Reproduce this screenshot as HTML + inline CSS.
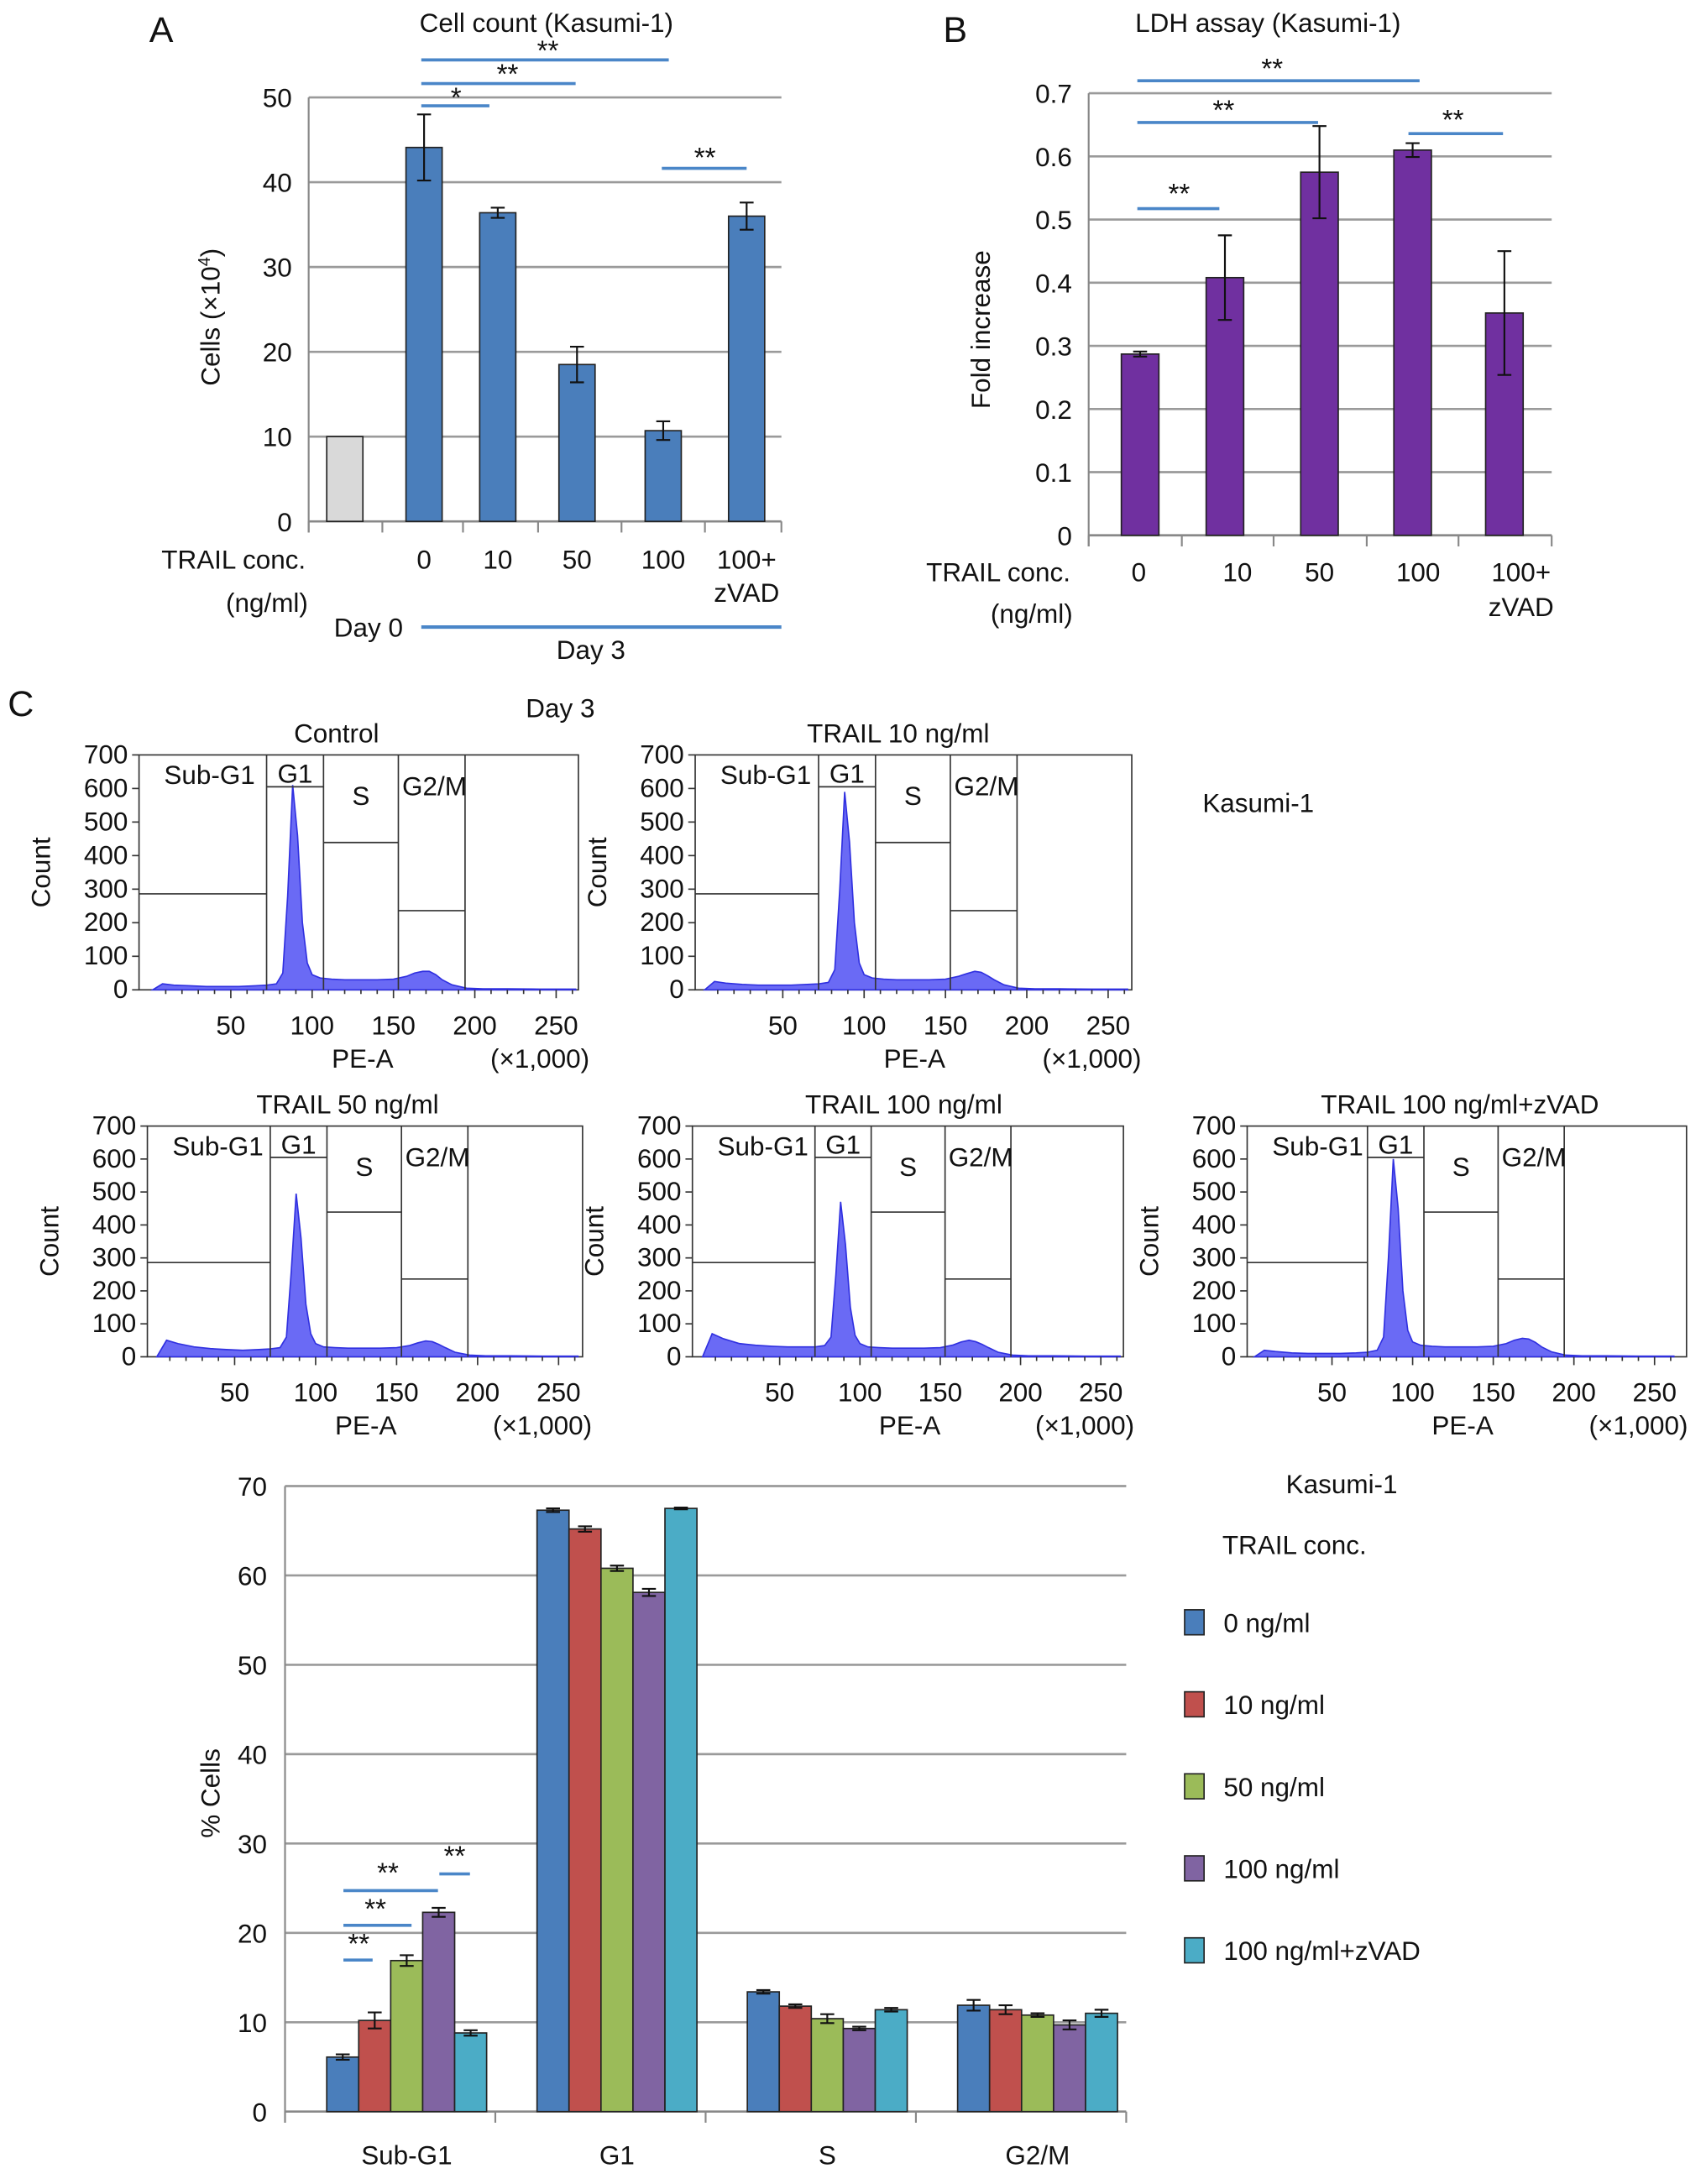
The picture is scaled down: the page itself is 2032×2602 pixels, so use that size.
<!DOCTYPE html>
<html><head><meta charset="utf-8"><style>
html,body{margin:0;padding:0;background:#fff;}
svg{display:block;font-family:"Liberation Sans",Arial,sans-serif;}
</style></head><body>
<svg id="fig" width="2032" height="2602" viewBox="0 0 1227 1571" xmlns="http://www.w3.org/2000/svg"></svg>
<script>
// ---- Panel A data ----
const aCats = ['Day0','0','10','50','100','100+zVAD'];
const aVals = [10, 44.1, 36.4, 18.5, 10.7, 36.0];
const aErrs = [0, 3.9, 0.6, 2.1, 1.1, 1.6];
const aTicks = [0,10,20,30,40,50];
// ---- Panel B data ----
const bCats = ['0','10','50','100','100+zVAD'];
const bVals = [0.287, 0.408, 0.575, 0.610, 0.352];
const bErrs = [0.004, 0.067, 0.073, 0.011, 0.098];
const bTicks = [0,0.1,0.2,0.3,0.4,0.5,0.6,0.7];
// ---- Histogram data ----
const hX = [2,8,15,25,35,45,55,65,72,78,82,85,88,91,94,97,100,105,112,120,130,140,150,158,163,168,172,176,180,186,195,205,220,240,262];
const hCtrl = [0,18,14,12,10,10,10,12,14,18,50,280,610,460,200,80,45,35,32,30,30,30,32,40,50,55,55,45,30,15,5,3,3,2,2];
const hT10 = [0,25,20,16,14,14,14,16,18,22,60,300,590,440,200,80,45,35,32,30,30,30,32,40,48,55,52,42,30,15,5,3,3,2,2];
const hT50 = [0,50,40,30,25,22,20,22,24,28,60,260,495,360,160,70,40,30,28,26,26,26,28,34,42,48,46,38,28,14,5,3,3,2,2];
const hT100 = [0,70,55,40,35,32,30,30,30,34,60,250,470,340,150,65,40,30,28,26,26,26,28,36,45,50,46,38,28,14,5,3,3,2,2];
const hZvad = [0,20,16,12,10,10,10,12,14,20,60,300,600,450,200,80,45,35,32,30,30,30,32,40,50,56,54,44,30,15,5,3,3,2,2];
const hGates = [72,107,153,194];
const hGateTops = [286,605,439,236];
// ---- Cell cycle data ----
const cPhases = ['Sub-G1','G1','S','G2/M'];
const cSeries = ['0 ng/ml','10 ng/ml','50 ng/ml','100 ng/ml','100 ng/ml+zVAD'];
const cSub = [6.1,10.2,16.9,22.3,8.8];
const cG1 = [67.3,65.2,60.8,58.1,67.5];
const cS = [13.4,11.8,10.4,9.3,11.4];
const cG2 = [11.9,11.4,10.8,9.7,11.0];
const cSubE = [0.3,0.9,0.6,0.5,0.3];
const cG1E = [0.2,0.3,0.3,0.4,0.1];
const cSE = [0.2,0.2,0.5,0.2,0.2];
const cG2E = [0.6,0.5,0.2,0.5,0.4];
const cTicks = [0,10,20,30,40,50,60,70];

const NS='http://www.w3.org/2000/svg';
const svg=document.getElementById('fig');
function el(tag,attrs,name,parent){
  const e=document.createElementNS(NS,tag);
  for(const k in attrs) e.setAttribute(k,attrs[k]);
  
  
  (parent||svg).appendChild(e);
  return e;
}
function tx(x,y,s,name,opt){
  opt=opt||{};
  const t=el('text',Object.assign({x:x,y:y,'font-size':opt.fs||19,'text-anchor':opt.a||'middle',fill:'#111'},opt.attr||{}),name);
  t.textContent=s;return t;
}
function line(x1,y1,x2,y2,c,w,name){return el('line',{x1:x1,y1:y1,x2:x2,y2:y2,stroke:c,'stroke-width':w},name);}
function errbar(x,y1,y2,name){
  line(x,y1,x,y2,'#111',1.3,name);
  line(x-5,y1,x+5,y1,'#111',1.3,name+'-cap-top');
  line(x-5,y2,x+5,y2,'#111',1.3,name+'-cap-bottom');
}
function sig(x1,x2,y,sx,sy,s,name){
  line(x1,y,x2,y,'#4a86c8',2.2,name+'-line');
  tx(sx,sy,s,name+'-stars',{fs:20});
}

// ===== Panel A =====
tx(116,30,'A','panel-a-label',{fs:26});
tx(393,23,'Cell count (Kasumi-1)','panel-a-title',{});
const aY=v=>375-v/50*305;
const aX=i=>[248,305,358,415,477,537][i];
aTicks.forEach(t=>{
  if(t>0) line(222,aY(t),562,aY(t),'#9a9a9a',1.6,'a-gridline-'+t);
  tx(210,aY(t)+7,String(t),'a-y-tick-'+t,{a:'end'});
});
line(222,70,222,383,'#888',1.3,'a-y-axis');
line(222,375,562,375,'#888',1.6,'a-x-axis');
[222,275,333,387,447,507,562].forEach((x,i)=>line(x,375,x,383,'#888',1.3,'a-x-tick-'+i));
aVals.forEach((v,i)=>{
  el('rect',{x:aX(i)-13,y:aY(v),width:26,height:375-aY(v),fill:i==0?'#d9d9d9':'#4a7ebb',stroke:'#222','stroke-width':1},'a-bar-'+aCats[i]);
  if(aErrs[i]>0) errbar(aX(i),aY(v+aErrs[i]),aY(v-aErrs[i]),'a-errbar-'+aCats[i]);
});
el('text',{x:158,y:228,'font-size':19,'text-anchor':'middle',transform:'rotate(-90 158 228)',fill:'#111'},'a-y-axis-title').innerHTML='Cells (×10<tspan dy="-7" font-size="12">4</tspan><tspan dy="7">)</tspan>';
tx(168,409,'TRAIL conc.','a-x-title',{});
tx(192,440,'(ng/ml)','a-x-unit',{});
['0','10','50','100','100+'].forEach((s,i)=>tx(aX(i+1),409,s,'a-x-label-'+s,{}));
tx(537,433,'zVAD','a-x-label-zvad',{});
tx(265,458,'Day 0','a-day0-label',{});
line(303,451,562,451,'#4a86c8',2.5,'a-day3-line');
tx(425,474,'Day 3','a-day3-label',{});
sig(303,352,76,328,77,'*','a-sig-0-10');
sig(303,414,60,365,60,'**','a-sig-0-50');
sig(303,481,43,394,43,'**','a-sig-0-100');
sig(476,537,121,507,120,'**','a-sig-100-zvad');

// ===== Panel B =====
tx(687,30,'B','panel-b-label',{fs:26});
tx(912,23,'LDH assay (Kasumi-1)','panel-b-title',{});
const bY=v=>385-v/0.7*318;
const bX=i=>[820,881,949,1016,1082][i];
bTicks.forEach(t=>{
  if(t>0) line(783,bY(t),1116,bY(t),'#9a9a9a',1.6,'b-gridline-'+t);
  tx(771,bY(t)+7,String(t),'b-y-tick-'+t,{a:'end'});
});
line(783,67,783,393,'#888',1.3,'b-y-axis');
line(783,385,1116,385,'#888',1.6,'b-x-axis');
[783,850,916,983,1049,1116].forEach((x,i)=>line(x,385,x,393,'#888',1.3,'b-x-tick-'+i));
bVals.forEach((v,i)=>{
  el('rect',{x:bX(i)-13.5,y:bY(v),width:27,height:385-bY(v),fill:'#7030a0',stroke:'#222','stroke-width':1},'b-bar-'+bCats[i]);
  errbar(bX(i),bY(v+bErrs[i]),bY(v-bErrs[i]),'b-errbar-'+bCats[i]);
});
tx(712,237,'Fold increase','b-y-axis-title',{attr:{transform:'rotate(-90 712 237)'}});
tx(718,418,'TRAIL conc.','b-x-title',{});
tx(742,448,'(ng/ml)','b-x-unit',{});
[['0',819],['10',890],['50',949],['100',1020],['100+',1094]].forEach(p=>tx(p[1],418,p[0],'b-x-label-'+p[0],{}));
tx(1094,443,'zVAD','b-x-label-zvad',{});
sig(818,1021,58,915,56,'**','b-sig-0-100');
sig(818,948,88,880,86,'**','b-sig-0-50');
sig(818,877,150,848,146,'**','b-sig-0-10');
sig(1013,1081,96,1045,93,'**','b-sig-100-zvad');

// ===== Panel C histograms =====
tx(15,515,'C','panel-c-label',{fs:26});
tx(403,516,'Day 3','c-day3-label',{});
tx(905,584,'Kasumi-1','c-cellline-label',{});
function hist(p){
  const X=v=>p.o+v*p.k, Y=c=>p.y1-c/700*(p.y1-p.y0);
  const n=p.name;
  el('rect',{x:p.x0,y:p.y0,width:p.x1-p.x0,height:p.y1-p.y0,fill:'none',stroke:'#333','stroke-width':1},n+'-plot-frame');
  let d='M'+X(hX[0])+','+Y(0);
  hX.forEach((x,i)=>{d+=' L'+X(x).toFixed(1)+','+Y(p.data[i]).toFixed(1);});
  d+=' L'+X(hX[hX.length-1])+','+Y(0)+' Z';
  el('path',{d:d,fill:'#6a6af5',stroke:'#3030e0','stroke-width':1},n+'-histogram');
  hGates.forEach((g,i)=>line(X(g),p.y0,X(g),p.y1,'#333',1,n+'-gate-line-'+i));
  const bounds=[p.x0,X(hGates[0]),X(hGates[1]),X(hGates[2]),X(hGates[3])];
  hGateTops.forEach((c,i)=>line(bounds[i],Y(c),bounds[i+1],Y(c),'#333',1,n+'-gate-top-'+i));
  tx(p.x0+18,p.y0+21,'Sub-G1',n+'-gate-subg1',{a:'start'});
  tx((bounds[1]+bounds[2])/2,p.y0+20,'G1',n+'-gate-g1',{});
  tx((bounds[2]+bounds[3])/2,p.y0+36,'S',n+'-gate-s',{});
  tx((bounds[3]+bounds[4])/2+2,p.y0+29,'G2/M',n+'-gate-g2m',{});
  for(let c=0;c<=700;c+=100){
    line(p.x0-5,Y(c),p.x0,Y(c),'#333',1,n+'-y-tick-mark-'+c);
    tx(p.x0-8,Y(c)+6,String(c),n+'-y-tick-'+c,{a:'end'});
  }
  for(let v=10;v<=260;v+=10){
    line(X(v),p.y1,X(v),p.y1+(v%50==0?6:3),'#333',1,n+'-x-tick-mark-'+v);
  }
  [50,100,150,200,250].forEach(v=>tx(X(v),p.y1+32,String(v),n+'-x-tick-'+v,{}));
  tx(X(131),p.y1+56,'PE-A',n+'-x-axis-title',{});
  tx(X(240),p.y1+56,'(×1,000)',n+'-x-unit',{});
  const cy=(p.y0+p.y1)/2, cx=p.x0-64;
  tx(cx,cy,'Count',n+'-y-axis-title',{attr:{transform:'rotate(-90 '+cx+' '+cy+')'}});
  tx(p.tx,p.y0-9,p.title,n+'-title',{});
}
hist({name:'hist-control',x0:100,x1:416,y0:543,y1:712,o:107.5,k:1.17,data:hCtrl,title:'Control',tx:242});
hist({name:'hist-trail10',x0:500,x1:814,y0:543,y1:712,o:504.5,k:1.17,data:hT10,title:'TRAIL 10 ng/ml',tx:646});
hist({name:'hist-trail50',x0:106,x1:419,y0:810,y1:976,o:110.5,k:1.165,data:hT50,title:'TRAIL 50 ng/ml',tx:250});
hist({name:'hist-trail100',x0:498,x1:808,y0:810,y1:976,o:503,k:1.155,data:hT100,title:'TRAIL 100 ng/ml',tx:650});
hist({name:'hist-trail100-zvad',x0:897,x1:1213,y0:810,y1:976,o:900,k:1.16,data:hZvad,title:'TRAIL 100 ng/ml+zVAD',tx:1050});

// ===== Cell cycle bar chart =====
const colors=['#4a7ebb','#c0504d','#9bbb59','#8064a2','#4bacc6'];
const cY=v=>1519-v/70*450;
const bandW=(810-205)/4;
const cX=(g,i)=>205+g*bandW+30+i*23;
cTicks.forEach(t=>{
  if(t>0) line(205,cY(t),810,cY(t),'#9a9a9a',1.6,'c-gridline-'+t);
  tx(192,cY(t)+7,String(t),'c-y-tick-'+t,{a:'end'});
});
line(205,1069,205,1527,'#888',1.3,'c-y-axis');
line(205,1519,810,1519,'#888',1.6,'c-x-axis');
for(let g=0;g<=4;g++) line(205+g*bandW,1519,205+g*bandW,1527,'#888',1.3,'c-x-tick-'+g);
const cVals=[cSub,cG1,cS,cG2], cErrs=[cSubE,cG1E,cSE,cG2E];
cVals.forEach((arr,g)=>arr.forEach((v,i)=>{
  el('rect',{x:cX(g,i),y:cY(v),width:23,height:1519-cY(v),fill:colors[i],stroke:'#222','stroke-width':1},'c-bar-'+cPhases[g]+'-'+i);
  errbar(cX(g,i)+11.5,cY(v+cErrs[g][i]),cY(v-cErrs[g][i]),'c-errbar-'+cPhases[g]+'-'+i);
}));
cPhases.forEach((p,g)=>tx(cX(g,2)+11.5,1557,p,'c-x-label-'+p,{}));
tx(158,1290,'% Cells','c-y-axis-title',{attr:{transform:'rotate(-90 158 1290)'}});
sig(247,268,1410,258,1405,'**','c-sig-0-10');
sig(247,296,1385,270,1380,'**','c-sig-0-50');
sig(247,315,1360,279,1354,'**','c-sig-0-100');
sig(316,338,1348,327,1342,'**','c-sig-100-zvad');
tx(965,1074,'Kasumi-1','c-legend-title',{});
tx(931,1118,'TRAIL conc.','c-legend-subtitle',{});
cSeries.forEach((s,i)=>{
  const y=1167+i*59;
  el('rect',{x:852,y:y-9,width:14,height:18,fill:colors[i],stroke:'#222','stroke-width':1},'c-legend-swatch-'+i);
  tx(880,y+7,s,'c-legend-entry-'+i,{a:'start'});
});
</script>
</body></html>
